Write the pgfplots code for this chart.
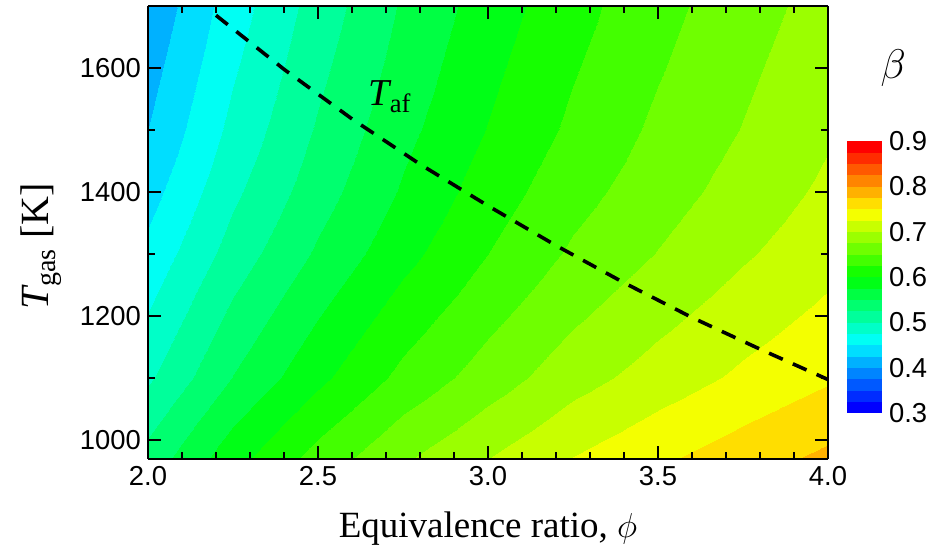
\documentclass[border=0pt]{standalone}
\usepackage{fontspec}
\setmainfont{Liberation Serif}
\newfontfamily\arial{Liberation Sans}
\usepackage{pgfplots}
\pgfplotsset{compat=1.18}
\pgfplotsset{
  colormap={betajet}{
    rgb255=(0,0,255) rgb255=(0,44,255) rgb255=(0,89,255) rgb255=(0,133,255)
    rgb255=(0,177,255) rgb255=(0,222,255) rgb255=(0,255,244) rgb255=(0,255,200)
    rgb255=(0,255,155) rgb255=(0,255,111) rgb255=(0,255,67) rgb255=(0,255,22)
    rgb255=(22,255,0) rgb255=(67,255,0) rgb255=(111,255,0) rgb255=(155,255,0)
    rgb255=(200,255,0) rgb255=(244,255,0) rgb255=(255,222,0) rgb255=(255,177,0)
    rgb255=(255,133,0) rgb255=(255,89,0) rgb255=(255,44,0) rgb255=(255,0,0)
  },
}
\begin{document}
\begin{tikzpicture}
\begin{axis}[
  view={0}{90},
  scale only axis,
  width=340pt, height=226.5pt,
  xmin=2, xmax=4, ymin=970, ymax=1700,
  enlargelimits=false,
  clip=false,
  xtick={2,2.5,3,3.5,4}, ytick={1000,1200,1400,1600},
  minor x tick num=4, minor y tick num=1,
  tick align=inside,
  major tick length=6.5pt, minor tick length=3.5pt,
  every tick/.style={black, line width=1.1pt},
  axis line style={line width=1.2pt},
  /pgf/number format/assume math mode=true,
  ticklabel style={font=\arial\fontsize{13.7}{16}\selectfont},
  xticklabel style={/pgf/number format/fixed, /pgf/number format/fixed zerofill, /pgf/number format/precision=1},
  yticklabel style={/pgf/number format/set thousands separator={}},
  xlabel={Equivalence ratio, $\phi$},
  ylabel={{\itshape T}\textsubscript{gas} [K]},
  xlabel style={font=\fontsize{18.5}{20}\selectfont, yshift=-6.5pt},
  ylabel style={font=\fontsize{20}{22}\selectfont, at={(axis description cs:-0.197,0.47)}, anchor=north},
  colormap name=betajet,
  colormap access=piecewise constant,
  point meta min=0.3, point meta max=0.9,
  colorbar right,
  colorbar style={
    at={(1.028,0.1015)}, anchor=south west,
    scale only axis, width=17.5pt, height=136pt,
    ytick={0.3,0.4,0.5,0.6,0.7,0.8,0.9},
    yticklabel style={font=\arial\fontsize{13.7}{16}\selectfont, /pgf/number format/fixed, /pgf/number format/fixed zerofill, /pgf/number format/precision=1},
    /pgf/number format/assume math mode=true,
    major tick length=0pt,
    axis line style={draw=none},
  },
]
\addplot3[surf, shader=interp, mesh/cols=9] table {
x y z
2.00 970 0.535
2.25 970 0.591
2.50 970 0.635
2.75 970 0.672
3.00 970 0.700
3.25 970 0.726
3.50 970 0.746
3.75 970 0.764
4.00 970 0.781
2.00 1100 0.496
2.25 1100 0.551
2.50 1100 0.594
2.75 1100 0.632
3.00 1100 0.662
3.25 1100 0.690
3.50 1100 0.711
3.75 1100 0.730
4.00 1100 0.747
2.00 1200 0.476
2.25 1200 0.531
2.50 1200 0.574
2.75 1200 0.612
3.00 1200 0.643
3.25 1200 0.671
3.50 1200 0.693
3.75 1200 0.713
4.00 1200 0.731
2.00 1300 0.457
2.25 1300 0.511
2.50 1300 0.554
2.75 1300 0.592
3.00 1300 0.625
3.25 1300 0.654
3.50 1300 0.676
3.75 1300 0.697
4.00 1300 0.716
2.00 1400 0.440
2.25 1400 0.495
2.50 1400 0.539
2.75 1400 0.578
3.00 1400 0.612
3.25 1400 0.641
3.50 1400 0.664
3.75 1400 0.685
4.00 1400 0.705
2.00 1500 0.425
2.25 1500 0.482
2.50 1500 0.528
2.75 1500 0.568
3.00 1500 0.601
3.25 1500 0.630
3.50 1500 0.655
3.75 1500 0.676
4.00 1500 0.697
2.00 1600 0.415
2.25 1600 0.472
2.50 1600 0.519
2.75 1600 0.560
3.00 1600 0.594
3.25 1600 0.623
3.50 1600 0.648
3.75 1600 0.670
4.00 1600 0.691
2.00 1700 0.405
2.25 1700 0.463
2.50 1700 0.511
2.75 1700 0.553
3.00 1700 0.587
3.25 1700 0.616
3.50 1700 0.642
3.75 1700 0.664
4.00 1700 0.685
};
\addplot3[black, line width=1.8pt, dash pattern=on 7.5pt off 5.5pt] coordinates {
(2.2,1685,0.6) (2.4,1598,0.6) (2.6,1518,0.6) (2.8,1445,0.6) (3.0,1378,0.6)
(3.2,1314,0.6) (3.4,1254,0.6) (3.6,1198,0.6) (3.8,1147,0.6) (4.0,1098,0.6)
};
\node at (axis description cs:0.356,0.80) {\fontsize{19}{20}\selectfont{\itshape T}\textsubscript{af}};
\node at (axis description cs:1.096,0.863) {\fontsize{20}{20}\selectfont$\beta$};
\coordinate (topc) at (axis description cs:0,1);
\coordinate (botc) at (axis description cs:0,0);
\end{axis}
\path ([yshift=3pt]topc);
\path ([xshift=-74pt,yshift=-48.5pt]botc);
\path ([xshift=395pt]botc);
\end{tikzpicture}
\end{document}
